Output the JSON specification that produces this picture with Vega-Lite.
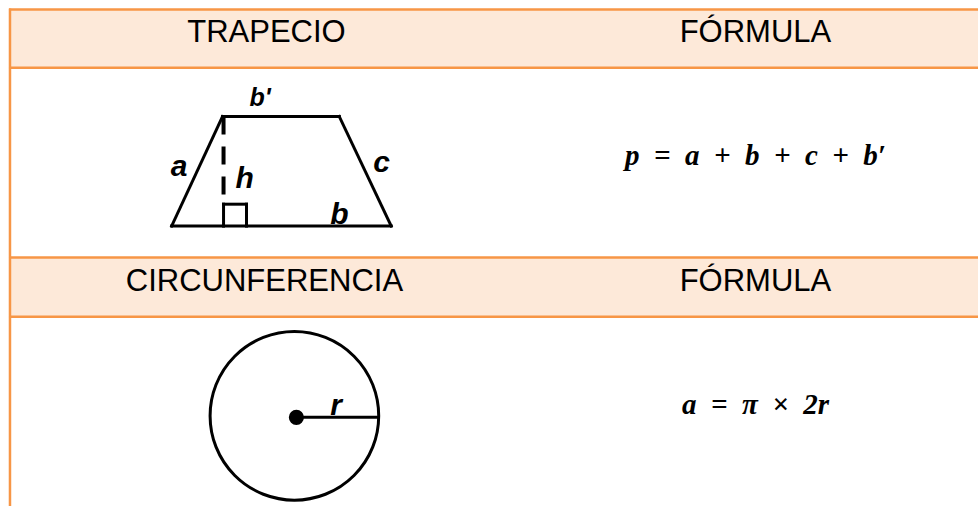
{
  "$schema": "https://vega.github.io/schema/vega-lite/v6.json",
  "width": 980,
  "height": 508,
  "padding": 0,
  "autosize": {"type": "fit", "contains": "padding"},
  "background": "white",
  "config": {"view": {"stroke": null}},
  "datasets": {
    "bands": [
      {"x": 10, "x2": 980, "y": 10, "y2": 68},
      {"x": 10, "x2": 980, "y": 259, "y2": 318}
    ],
    "borders": [
      {"x": 9, "x2": 980, "y": 9.5, "y2": 9.5},
      {"x": 9, "x2": 980, "y": 68, "y2": 68},
      {"x": 9, "x2": 980, "y": 258.5, "y2": 258.5},
      {"x": 9, "x2": 980, "y": 318, "y2": 318},
      {"x": 10, "x2": 10, "y": 8.5, "y2": 508}
    ],
    "shape": [
      {"x": 172, "y": 227, "x2": 392, "y2": 227},
      {"x": 172, "y": 227, "x2": 223, "y2": 117},
      {"x": 223, "y": 117, "x2": 340, "y2": 117},
      {"x": 340, "y": 117, "x2": 392, "y2": 227},
      {"x": 224, "y": 205, "x2": 247, "y2": 205},
      {"x": 247, "y": 205, "x2": 247, "y2": 227},
      {"x": 224, "y": 205, "x2": 224, "y2": 227},
      {"x": 297, "y": 419, "x2": 379, "y2": 419}
    ],
    "height": [
      {"x": 224, "y": 117, "x2": 224, "y2": 205}
    ],
    "circle": [{"x": 295, "y": 417.5}],
    "centre": [{"x": 297, "y": 419}],
    "headers": [
      {"label": "TRAPECIO", "x": 267, "y": 42},
      {"label": "FÓRMULA", "x": 757, "y": 42},
      {"label": "CIRCUNFERENCIA", "x": 265, "y": 292},
      {"label": "FÓRMULA", "x": 757, "y": 292}
    ],
    "labels": [
      {"label": "a", "x": 171, "y": 177},
      {"label": "h", "x": 236, "y": 189},
      {"label": "c", "x": 374, "y": 173},
      {"label": "b", "x": 331, "y": 225},
      {"label": "r", "x": 331, "y": 417}
    ],
    "prime": [
      {"label": "b'", "x": 250, "y": 106}
    ],
    "formulas": [
      {"label": "p\u2002=\u2002a\u2002+\u2002b\u2002+\u2002c\u2002+\u2002b′", "x": 757, "y": 166},
      {"label": "a\u2002=\u2002π\u2002×\u20022r", "x": 757, "y": 416}
    ]
  },
  "layer": [
    {
      "data": {"name": "bands"},
      "mark": {"type": "rect", "color": "#FDE9D9"},
      "encoding": {
        "x": {"field": "x", "type": "quantitative", "scale": {"domain": [0, 980], "nice": false, "zero": false}, "axis": null},
        "x2": {"field": "x2"},
        "y": {"field": "y", "type": "quantitative", "scale": {"domain": [0, 508], "nice": false, "zero": false, "reverse": true}, "axis": null},
        "y2": {"field": "y2"}
      }
    },
    {
      "data": {"name": "borders"},
      "mark": {"type": "rule", "color": "#F79646", "strokeWidth": 2.5},
      "encoding": {
        "x": {"field": "x", "type": "quantitative"},
        "x2": {"field": "x2"},
        "y": {"field": "y", "type": "quantitative"},
        "y2": {"field": "y2"}
      }
    },
    {
      "data": {"name": "shape"},
      "mark": {"type": "rule", "color": "black", "strokeWidth": 3, "strokeCap": "square"},
      "encoding": {
        "x": {"field": "x", "type": "quantitative"},
        "x2": {"field": "x2"},
        "y": {"field": "y", "type": "quantitative"},
        "y2": {"field": "y2"}
      }
    },
    {
      "data": {"name": "height"},
      "mark": {"type": "rule", "color": "black", "strokeWidth": 4, "strokeDash": [18, 12]},
      "encoding": {
        "x": {"field": "x", "type": "quantitative"},
        "x2": {"field": "x2"},
        "y": {"field": "y", "type": "quantitative"},
        "y2": {"field": "y2"}
      }
    },
    {
      "data": {"name": "circle"},
      "mark": {"type": "point", "shape": "circle", "filled": false, "stroke": "black", "strokeWidth": 3, "size": 28425, "opacity": 1},
      "encoding": {
        "x": {"field": "x", "type": "quantitative"},
        "y": {"field": "y", "type": "quantitative"}
      }
    },
    {
      "data": {"name": "centre"},
      "mark": {"type": "point", "shape": "circle", "filled": true, "color": "black", "size": 230, "opacity": 1},
      "encoding": {
        "x": {"field": "x", "type": "quantitative"},
        "y": {"field": "y", "type": "quantitative"}
      }
    },
    {
      "data": {"name": "headers"},
      "mark": {"type": "text", "font": "Liberation Sans", "fontSize": 31, "color": "black", "align": "center", "baseline": "alphabetic"},
      "encoding": {
        "x": {"field": "x", "type": "quantitative"},
        "y": {"field": "y", "type": "quantitative"},
        "text": {"field": "label"}
      }
    },
    {
      "data": {"name": "labels"},
      "mark": {"type": "text", "font": "Liberation Sans", "fontSize": 30, "fontWeight": "bold", "fontStyle": "italic", "color": "black", "align": "left", "baseline": "alphabetic"},
      "encoding": {
        "x": {"field": "x", "type": "quantitative"},
        "y": {"field": "y", "type": "quantitative"},
        "text": {"field": "label"}
      }
    },
    {
      "data": {"name": "prime"},
      "mark": {"type": "text", "font": "Liberation Sans", "fontSize": 25, "fontWeight": "bold", "fontStyle": "italic", "color": "black", "align": "left", "baseline": "alphabetic"},
      "encoding": {
        "x": {"field": "x", "type": "quantitative"},
        "y": {"field": "y", "type": "quantitative"},
        "text": {"field": "label"}
      }
    },
    {
      "data": {"name": "formulas"},
      "mark": {"type": "text", "font": "Liberation Serif", "fontSize": 29, "fontWeight": "bold", "fontStyle": "italic", "color": "black", "align": "center", "baseline": "alphabetic"},
      "encoding": {
        "x": {"field": "x", "type": "quantitative"},
        "y": {"field": "y", "type": "quantitative"},
        "text": {"field": "label"}
      }
    }
  ]
}
